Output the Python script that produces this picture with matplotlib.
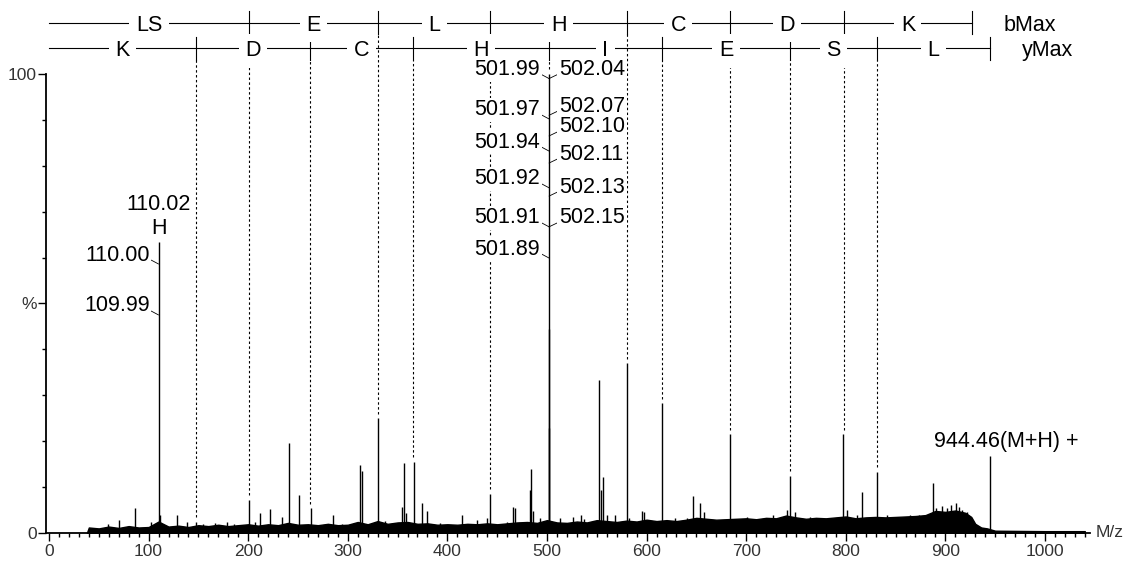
import numpy as np
import matplotlib.pyplot as plt
from matplotlib.ticker import FixedLocator, MultipleLocator

plt.rcParams['font.family'] = ['Liberation Sans', 'DejaVu Sans']

# centroid peaks: m/z and relative intensity (%)
peak_mz = [59, 70, 86, 102, 110.0, 111.5, 129, 139, 148, 155, 167, 179, 186,
           200.6, 207, 212, 222, 234, 241, 251, 263, 285, 294, 312, 314, 330.2,
           337, 354, 356, 358, 366, 375, 380, 393, 415, 430, 440, 443.3, 460,
           466, 468, 483, 484, 486, 493, 501.9, 502.1, 502.4, 513, 526, 534,
           537, 552, 554, 556, 560, 568, 580.3, 582, 595, 597, 615.3, 629, 641,
           647, 654, 658, 683.3, 701, 727, 741, 744.3, 749, 764, 797.4, 801,
           811, 816, 831.4, 841, 864, 874, 888, 891, 897, 902, 906, 911, 914,
           917, 922, 944.4]
peak_int = [2.0, 2.8, 5.4, 2.4, 63.4, 4.0, 4.0, 2.5, 2.5, 2.0, 2.2, 2.5, 2.0,
            7.2, 2.5, 4.3, 5.2, 3.5, 19.6, 8.3, 5.4, 4.0, 2.0, 14.8, 13.5, 25.0,
            2.6, 5.6, 15.2, 4.3, 15.5, 6.5, 4.8, 2.2, 4.0, 2.8, 3.2, 8.5, 2.4,
            5.7, 5.5, 9.4, 13.9, 4.8, 3.2, 44.5, 100.0, 22.9, 3.2, 3.5, 3.9,
            3.0, 33.3, 9.4, 12.2, 3.9, 3.9, 37.0, 3.2, 4.8, 4.6, 28.3, 3.2, 3.2,
            8.0, 6.5, 4.6, 21.5, 3.5, 4.0, 5.0, 12.5, 4.6, 3.5, 21.5, 5.0,
            4.0, 9.0, 13.3, 3.9, 3.9, 4.0, 11.0, 5.5, 5.9, 5.5, 6.0, 6.5, 5.7,
            5.0, 4.5, 16.8]

# upper edge of the dense low-level noise band (%)
noise_mz = [38, 40, 50, 60, 70, 80, 90, 100, 110, 120, 130, 140, 150, 160, 170,
            180, 190, 200, 210, 220, 230, 240, 250, 260, 270, 280, 290, 300,
            310, 320, 330, 340, 350, 360, 370, 380, 390, 400, 410, 420, 430,
            440, 450, 460, 470, 480, 490, 500, 510, 520, 530, 540, 550, 560,
            570, 580, 590, 600, 610, 620, 630, 640, 650, 660, 670, 680, 690,
            700, 710, 720, 730, 740, 750, 760, 770, 780, 790, 800, 810, 820,
            830, 840, 850, 860, 870, 880, 890, 900, 910, 920, 926, 930, 936,
            942, 950, 1000, 1040]
noise_int = [0.0, 1.2, 1.0, 1.4, 1.1, 1.5, 1.2, 1.3, 2.5, 1.4, 1.6, 1.3, 1.7,
             1.5, 1.8, 1.5, 1.7, 1.9, 1.6, 1.9, 1.7, 2.2, 1.8, 1.9, 1.7, 2.0,
             1.7, 1.8, 2.4, 1.9, 2.6, 2.0, 2.3, 2.4, 2.0, 2.1, 1.8, 1.9, 1.8,
             2.0, 1.9, 2.1, 1.9, 2.1, 2.3, 2.4, 2.2, 2.8, 2.3, 2.2, 2.5, 2.3,
             2.8, 2.6, 2.4, 2.7, 2.5, 2.9, 2.6, 2.8, 2.6, 2.9, 3.3, 3.1, 2.9,
             3.0, 3.1, 3.2, 3.0, 3.3, 3.2, 3.8, 3.4, 3.1, 3.3, 3.2, 3.4, 3.6,
             3.2, 3.4, 3.5, 3.4, 3.5, 3.6, 3.7, 3.9, 4.8, 4.6, 4.9, 4.4, 3.5,
             2.0, 1.2, 1.0, 0.5, 0.4, 0.4]

# fragment ladders
b_ions = [201.12, 330.17, 443.25, 580.31, 683.32, 798.35]
b_max = 926.44
b_res = ['LS', 'E', 'L', 'H', 'C', 'D', 'K']
y_ions = [147.11, 262.14, 365.15, 502.21, 615.29, 744.33, 831.37]
y_max = 944.45
y_res = ['K', 'D', 'C', 'H', 'I', 'E', 'S', 'L']

# labelled peaks
h_mz = 110.0
h_top = '110.02\nH'
h_left_labels = ['110.00', '109.99']
h_left_int = [58.6, 47.5]
base_mz = 502.1
base_left_labels = ['501.99', '501.97', '501.94', '501.92', '501.91', '501.89']
base_left_int = [99.0, 90.2, 83.2, 75.2, 66.7, 59.9]
base_right_labels = ['502.04', '502.07', '502.10', '502.11', '502.13', '502.15']
base_right_int = [99.0, 91.0, 86.5, 80.6, 73.4, 66.7]
mh_mz = 944.4
mh_label = '944.46(M+H) +'

FS = 15.5
TICK_FS = 12.5
TICK_C = '#333333'

fig = plt.figure(figsize=(11.34, 5.63), dpi=100)
ax = fig.add_axes([0.041, 0.0533, 0.920, 0.8153])
ax.set_xlim(-2.5, 1045)
ax.set_ylim(0, 100)

# spectrum
ax.fill_between(noise_mz, 0, noise_int, color='black', lw=1.0, zorder=2)
ax.vlines(peak_mz, 0, peak_int, color='black', lw=1.0, zorder=2)

# ladders above the plot
pk_mz = np.array(peak_mz)
pk_int = np.array(peak_int)


def local_top(m):
    near = np.abs(pk_mz - m) < 2.5
    return pk_int[near].max() if near.any() else 0.0


def ladder(cuts, end, res, row, name):
    half = 2.5
    ax.plot([0, end], [row, row], color='black', lw=0.8, clip_on=False, zorder=3)
    for c in list(cuts) + [end]:
        ax.plot([c, c], [row - half, row + half], color='black', lw=0.8,
                clip_on=False, zorder=3)
    for c in cuts:
        ax.plot([c, c], [local_top(c) + 1.0, row - half], color='black',
                lw=0.8, ls=(0, (2.2, 2.2)), clip_on=False, zorder=1)
    edges = [0] + list(cuts) + [end]
    for lab, a, b in zip(res, edges[:-1], edges[1:]):
        ax.text((a + b) / 2, row, lab, ha='center', va='center_baseline',
                fontsize=FS, clip_on=False, zorder=5,
                bbox=dict(boxstyle='square,pad=0.3', fc='white', ec='none'))
    ax.annotate(name, (end, row), xytext=(32, 0), textcoords='offset pixels',
                ha='left', va='center_baseline', fontsize=FS,
                annotation_clip=False)


ladder(b_ions, b_max, b_res, 111.2, 'bMax')
ladder(y_ions, y_max, y_res, 105.6, 'yMax')

# peak labels
lead = dict(arrowstyle='-', lw=0.6, color='black', shrinkA=0, shrinkB=0)
box = dict(boxstyle='square,pad=0.08', fc='white', ec='none')


def side_labels(mz, labels, ints, left):
    for lab, yi in zip(labels, ints):
        props = dict(lead, relpos=(1, 0.3) if left else (0, 0.3))
        ax.annotate(lab, xy=(mz, yi), xytext=(-9 if left else 10, 9),
                    textcoords='offset pixels', ha='right' if left else 'left',
                    va='center', fontsize=FS, bbox=box, arrowprops=props,
                    zorder=6, annotation_clip=False)


side_labels(h_mz, h_left_labels, h_left_int, True)
side_labels(base_mz, base_left_labels, base_left_int, True)
side_labels(base_mz, base_right_labels, base_right_int, False)

ax.annotate(h_top, xy=(h_mz, local_top(h_mz)), xytext=(0, 3),
            textcoords='offset pixels', ha='center', va='bottom',
            multialignment='center', fontsize=FS, zorder=6)
ax.annotate(mh_label, xy=(mh_mz, local_top(mh_mz)), xytext=(-56, 14),
            textcoords='offset pixels', ha='left', va='center', fontsize=FS)

# axes
for s in ['top', 'right']:
    ax.spines[s].set_visible(False)
for s in ['left', 'bottom']:
    ax.spines[s].set_linewidth(1.3)

ax.xaxis.set_major_locator(MultipleLocator(100))
ax.xaxis.set_minor_locator(MultipleLocator(10))
ax.yaxis.set_major_locator(FixedLocator([0, 50, 100]))
ax.set_yticklabels(['0', '%', '100'])
ax.yaxis.set_minor_locator(MultipleLocator(10))
ax.tick_params(which='major', length=6, width=1, labelsize=TICK_FS,
               labelcolor=TICK_C)
ax.tick_params(axis='x', which='major', pad=2)
ax.tick_params(axis='y', which='major', pad=1)
ax.tick_params(which='minor', length=3, width=1)
ax.text(1.006, 0, 'M/z', transform=ax.transAxes, ha='left', va='center',
        fontsize=TICK_FS, color=TICK_C)

fig.savefig('out.png', dpi=100)
